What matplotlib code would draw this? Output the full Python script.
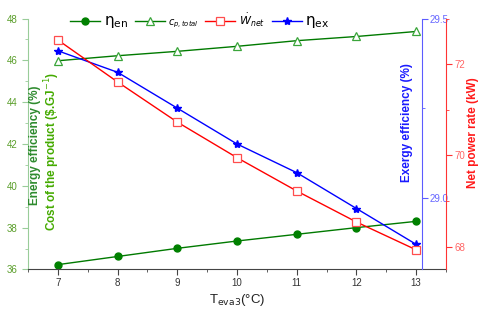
import matplotlib
matplotlib.use("Agg")
import matplotlib.pyplot as plt
from matplotlib.ticker import MultipleLocator, FormatStrFormatter

T_eva3 = [7, 8, 9, 10, 11, 12, 13]
eta_en = [36.23, 36.62, 37.01, 37.36, 37.68, 38.00, 38.30]
c_p_total = [45.98, 46.22, 46.43, 46.67, 46.94, 47.14, 47.38]
W_net = [72.53, 71.61, 70.73, 69.95, 69.22, 68.54, 67.93]
eta_ex = [29.41, 29.35, 29.25, 29.15, 29.07, 28.97, 28.87]

plt.rcParams['font.family'] = ['Liberation Sans', 'DejaVu Sans']
plt.rcParams['mathtext.fontset'] = 'dejavusans'

fig = plt.figure(figsize=(4.8, 3.17), dpi=100)
ax = fig.add_axes([0.0583, 0.150, 0.8709, 0.7916])
axb = ax.twinx()
axr = ax.twinx()

green_dark = '#007a00'
green_tri = '#3aa53a'
l_en, = ax.plot(T_eva3, eta_en, '-o', color=green_dark, lw=1.0, ms=5,
                mfc='#008000', mec='#008000')
l_cp, = ax.plot(T_eva3, c_p_total, '-^', color=green_dark, lw=1.0, ms=6,
                mfc='white', mec=green_tri, mew=0.9)
l_ex, = axb.plot(T_eva3, eta_ex, '-*', color='#0000ff', lw=1.0, ms=6,
                 mfc='#0000ff', mec='#0000ff')
l_w, = axr.plot(T_eva3, W_net, '-s', color='#ff0000', lw=1.0, ms=5.5,
                mfc='white', mec='#ff4d4d', mew=0.9)

ax.set_xlim(6.5, 13.5)
ax.set_ylim(36, 48)
axb.set_ylim(28.8, 29.5)
axr.set_ylim(67.5, 73)

ax.xaxis.set_major_locator(MultipleLocator(1))
ax.xaxis.set_minor_locator(MultipleLocator(0.5))
ax.yaxis.set_major_locator(MultipleLocator(2))
ax.yaxis.set_minor_locator(MultipleLocator(1))
axb.yaxis.set_major_locator(MultipleLocator(0.5))
axb.yaxis.set_minor_locator(MultipleLocator(0.25))
axb.yaxis.set_major_formatter(FormatStrFormatter('%.1f'))
axr.yaxis.set_major_locator(MultipleLocator(2))
axr.yaxis.set_minor_locator(MultipleLocator(1))

for a in (ax, axb, axr):
    a.spines['top'].set_visible(False)
ax.spines['right'].set_visible(False)
axb.spines['left'].set_visible(False)
axr.spines['left'].set_visible(False)
axb.spines['bottom'].set_visible(False)
axr.spines['bottom'].set_visible(False)
axb.spines['right'].set_position(('axes', 0.943))

lg_col = '#99cc99'
ax.spines['left'].set_color(lg_col)
ax.spines['bottom'].set_color('#444444')
ax.tick_params(axis='y', which='both', colors=lg_col, labelcolor='#5a9e2a',
               labelsize=7, direction='out')
ax.tick_params(axis='y', which='major', length=4)
ax.tick_params(axis='y', which='minor', length=2)
ax.tick_params(axis='x', which='both', colors='#444444', labelcolor='#333333',
               labelsize=7, direction='out', pad=2)
ax.tick_params(axis='x', which='major', length=4)
ax.tick_params(axis='x', which='minor', length=2)

axb.spines['right'].set_color('#5c5cff')
axb.tick_params(axis='y', which='both', colors='#5c5cff', labelcolor='#6666ff',
                labelsize=7, direction='out', pad=1)
axb.tick_params(axis='y', which='major', length=4)
axb.tick_params(axis='y', which='minor', length=2)

axr.spines['right'].set_color('#ff3333')
axr.tick_params(axis='y', which='both', colors='#ff3333', labelcolor='#ff6666',
                labelsize=7, direction='out', pad=2)
axr.tick_params(axis='y', which='major', length=4)
axr.tick_params(axis='y', which='minor', length=2)

fig.text(237 / 480, 1 - 300 / 317, r'T$_{\mathrm{eva3}}$(°C)', ha='center',
         va='center', fontsize=9.5, color='#222222')

fig.text(35 / 480, 1 - 145 / 317, 'Energy efficiency (%)', rotation=90,
         ha='center', va='center', fontsize=8.5, fontweight='bold',
         color='#2e8b2e')
fig.text(52 / 480, 1 - 152 / 317, r'Cost of the product (\$.GJ$^{-1}$)',
         rotation=90, ha='center', va='center', fontsize=8.5,
         fontweight='bold', color='#44aa00')
fig.text(407 / 480, 1 - 123 / 317, 'Exergy efficiency (%)', rotation=90,
         ha='center', va='center', fontsize=8.5, fontweight='bold',
         color='#1a1aff')
fig.text(473 / 480, 1 - 133 / 317, 'Net power rate (kW)', rotation=90,
         ha='center', va='center', fontsize=8.5, fontweight='bold',
         color='#ff1a1a')

handles = [l_en, l_cp, l_w, l_ex]
labels = [r'$\mathrm{\eta}_{\mathrm{en}}$', r'$\mathit{c}_{\mathit{p,total}}$',
          r'$\dot{W}_{\mathit{net}}$', r'$\mathrm{\eta}_{\mathrm{ex}}$']
leg = fig.legend(handles, labels, loc='center', ncol=4,
                 bbox_to_anchor=(200 / 480, 1 - 21 / 317), frameon=False,
                 fontsize=9, handlelength=2.4, columnspacing=0.5,
                 handletextpad=0.3)
fs = [11, 7, 8, 11]
for t, s in zip(leg.get_texts(), fs):
    t.set_fontsize(s)

fig.savefig('out.png', dpi=100)
